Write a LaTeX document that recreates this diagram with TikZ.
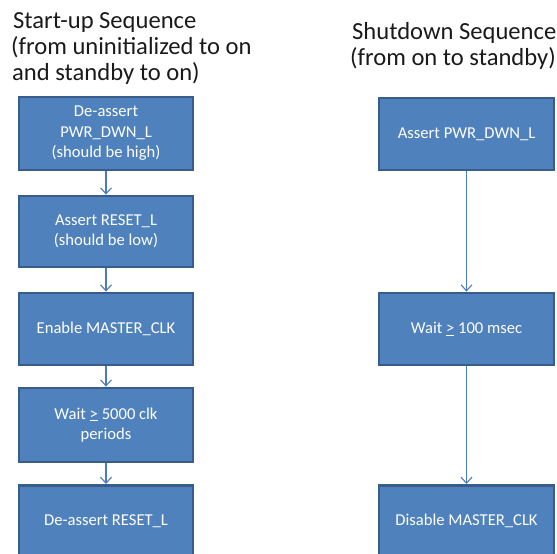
\documentclass[tikz,border=0pt]{standalone}
\usepackage{fontspec}
\setmainfont{Carlito}
\usetikzlibrary{arrows.meta}
\definecolor{boxfill}{HTML}{4F81BD}
\definecolor{boxedge}{HTML}{385D8A}
\definecolor{flowline}{HTML}{4A7EBB}
\definecolor{titleink}{HTML}{1A1A1A}
\begin{document}
\begin{tikzpicture}[x=1pt,y=-1pt,
  stepbox/.style={draw=boxedge,line width=2.8pt,fill=boxfill,text=white,
    font=\fontsize{16.6}{20.5}\selectfont,align=center},
  steptext/.style={text=white,font=\fontsize{16.6}{20.5}\selectfont},
  flow/.style={draw=flowline,line width=1.3pt,-{Straight Barb[length=6pt,width=11pt,line width=1.1pt]}},
  heading/.style={anchor=base west,inner sep=0pt,text=titleink,font=\fontsize{24.6}{26}\selectfont}]
\clip (0,0) rectangle (557,554);
% column titles
\node[heading] (t1) at (13,28) {Start-up Sequence};
\node[heading] (t2) at (11,54) {(from uninitialized to on};
\node[heading] (t3) at (12,80) {and standby to on)};
\node[heading] (s1) at (352,39) {Shutdown Sequence};
\node[heading] (s2) at (350,65) {(from on to standby)};
% start-up steps
\node[stepbox,minimum width=174pt,minimum height=73pt] (a1) at (106,133.5) {De-assert\\PWR\_DWN\_L\\(should be high)};
\node[stepbox,minimum width=174pt,minimum height=71pt] (a2) at (106,231.5) {Assert RESET\_L\\(should be low)};
\node[stepbox,minimum width=174pt,minimum height=72pt] (a3) at (106,329) {Enable MASTER\_CLK};
\node[stepbox,minimum width=174pt,minimum height=74pt] (a4) at (106,425) {Wait \underline{>} 5000 clk\\periods};
\node[stepbox,minimum width=174pt,minimum height=80pt,anchor=north] (a5) at (106,484) {};
\node[steptext] (a5t) at (106,521) {De-assert RESET\_L};
% shutdown steps
\node[stepbox,minimum width=175pt,minimum height=72pt] (b1) at (466.5,134) {Assert PWR\_DWN\_L};
\node[stepbox,minimum width=175pt,minimum height=72pt] (b2) at (466.5,329) {Wait \underline{>} 100 msec};
\node[stepbox,minimum width=175pt,minimum height=80pt,anchor=north] (b3) at (466.5,484) {};
\node[steptext] (b3t) at (466.5,521) {Disable MASTER\_CLK};
% connectors
\draw[flow] (a1) -- (a2);
\draw[flow] (a2) -- (a3);
\draw[flow] (a3) -- (a4);
\draw[flow] (a4) -- (a5);
\draw[flow] (b1) -- (b2);
\draw[flow] (b2) -- (b3);
\end{tikzpicture}
\end{document}
